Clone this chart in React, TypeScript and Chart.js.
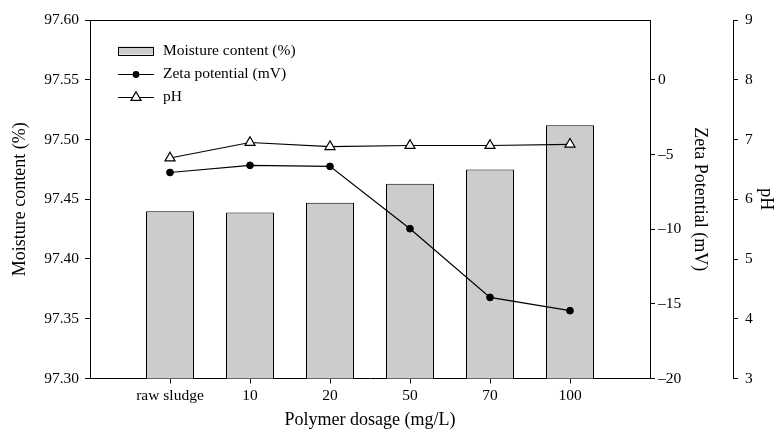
import React, { useEffect, useRef } from 'react';
import { Chart, registerables } from 'chart.js';

Chart.register(...registerables);

const categories = ['raw sludge', '10', '20', '50', '70', '100'];
const moisture = [97.44, 97.439, 97.447, 97.463, 97.475, 97.512];
const zeta = [-6.21, -5.73, -5.8, -9.97, -14.57, -15.46];
const ph = [6.69, 6.95, 6.88, 6.9, 6.9, 6.92];

const moistureTicks = [97.3, 97.35, 97.4, 97.45, 97.5, 97.55, 97.6];
const zetaTicks = [-20, -15, -10, -5, 0];
const phTicks = [3, 4, 5, 6, 7, 8, 9];

const FONT = "'Liberation Serif', 'Times New Roman', Times, serif";
const TICK_SIZE = 15.5;
const TITLE_SIZE = 18;

const framePlugin = {
  id: 'frameTop',
  afterDraw(chart: any) {
    const { ctx, chartArea } = chart;
    ctx.save();
    ctx.strokeStyle = '#000';
    ctx.lineWidth = 1;
    ctx.beginPath();
    const y = Math.round(chartArea.top) + 0.5;
    ctx.moveTo(chartArea.left, y);
    ctx.lineTo(chartArea.right, y);
    ctx.stroke();
    ctx.restore();
  },
};

const legendPlugin = {
  id: 'insideLegend',
  afterDraw(chart: any) {
    const { ctx, chartArea } = chart;
    const ds = chart.data.datasets;
    const x0 = chartArea.left + 28;
    const x1 = x0 + 36;
    const xm = (x0 + x1) / 2;
    const tx = x1 + 9;
    const rows = [chartArea.top + 30.5, chartArea.top + 53.5, chartArea.top + 77];
    ctx.save();
    ctx.font = `${TICK_SIZE}px ${FONT}`;
    ctx.fillStyle = '#000';
    ctx.textBaseline = 'middle';
    ctx.textAlign = 'left';
    ctx.lineWidth = 1.2;
    ctx.strokeStyle = '#000';
    // bar swatch
    ctx.fillStyle = '#cccccc';
    ctx.fillRect(x0, rows[0] - 4, 36, 8);
    ctx.lineWidth = 1;
    ctx.strokeRect(x0 + 0.5, Math.round(rows[0] - 4) + 0.5, 35, 8);
    ctx.lineWidth = 1.2;
    ctx.fillStyle = '#000';
    ctx.fillText(ds[0].label, tx, rows[0]);
    // zeta line
    ctx.beginPath();
    ctx.moveTo(x0, Math.round(rows[1]) + 0.5);
    ctx.lineTo(x1, Math.round(rows[1]) + 0.5);
    ctx.stroke();
    ctx.beginPath();
    ctx.arc(xm, Math.round(rows[1]) + 0.5, 3.4, 0, Math.PI * 2);
    ctx.fill();
    ctx.fillText(ds[1].label, tx, rows[1]);
    // pH line
    ctx.beginPath();
    ctx.moveTo(x0, Math.round(rows[2]) + 0.5);
    ctx.lineTo(x1, Math.round(rows[2]) + 0.5);
    ctx.stroke();
    const r = 5.8;
    const cy = Math.round(rows[2]) + 0.5;
    ctx.beginPath();
    ctx.moveTo(xm, cy - r);
    ctx.lineTo(xm + Math.sin((2 * Math.PI) / 3) * r, cy + r / 2);
    ctx.lineTo(xm - Math.sin((2 * Math.PI) / 3) * r, cy + r / 2);
    ctx.closePath();
    ctx.fillStyle = '#fff';
    ctx.fill();
    ctx.stroke();
    ctx.fillStyle = '#000';
    ctx.fillText(ds[2].label, tx, rows[2]);
    ctx.restore();
  },
};

export default function App() {
  const ref = useRef<HTMLCanvasElement | null>(null);

  useEffect(() => {
    if (!ref.current) return;
    const axisCommon = {
      grid: {
        display: true,
        drawOnChartArea: false,
        drawTicks: true,
        tickLength: 5,
        color: '#000',
        lineWidth: 1,
        offset: false,
      },
      border: { display: true, color: '#000', width: 1 },
    };
    const chart = new Chart(ref.current, {
      type: 'bar',
      data: {
        datasets: [
          {
            type: 'bar',
            label: 'Moisture content (%)',
            data: moisture.map((v, i) => ({ x: i, y: v })),
            xAxisID: 'x',
            yAxisID: 'yM',
            backgroundColor: '#cccccc',
            borderColor: '#000',
            borderWidth: 1,
            barPercentage: 0.6,
            categoryPercentage: 1,
            order: 3,
          },
          {
            type: 'line',
            label: 'Zeta potential (mV)',
            data: zeta.map((v, i) => ({ x: i, y: v })),
            xAxisID: 'x',
            yAxisID: 'yZ',
            borderColor: '#000',
            borderWidth: 1.2,
            pointStyle: 'circle',
            pointRadius: 3.4,
            pointBackgroundColor: '#000',
            pointBorderColor: '#000',
            pointBorderWidth: 1,
            tension: 0,
            fill: false,
            order: 2,
          },
          {
            type: 'line',
            label: 'pH',
            data: ph.map((v, i) => ({ x: i, y: v })),
            xAxisID: 'x',
            yAxisID: 'yP',
            borderColor: '#000',
            borderWidth: 1.2,
            pointStyle: 'triangle',
            pointRadius: 5.8,
            pointBackgroundColor: '#fff',
            pointBorderColor: '#000',
            pointBorderWidth: 1.2,
            tension: 0,
            fill: false,
            order: 1,
          },
        ] as any,
      },
      options: {
        animation: false,
        responsive: false,
        maintainAspectRatio: false,
        layout: { padding: { top: 20, left: 0, right: 0, bottom: 0 } },
        plugins: {
          legend: { display: false },
          tooltip: { enabled: false },
        },
        scales: {
          x: {
            type: 'linear',
            position: 'bottom',
            min: -1,
            max: 6,
            offset: false,
            ...axisCommon,
            ticks: {
              color: '#000',
              font: { family: FONT, size: TICK_SIZE },
              padding: 3,
              maxRotation: 0,
              minRotation: 0,
              autoSkip: false,
              callback: (v: any) => categories[v] ?? '',
            },
            afterBuildTicks: (s: any) => {
              s.ticks = categories.map((_, i) => ({ value: i }));
            },
            afterFit: (s: any) => {
              s.height = 54.5;
            },
            title: {
              display: true,
              text: 'Polymer dosage (mg/L)',
              color: '#000',
              font: { family: FONT, size: TITLE_SIZE },
              padding: { top: 0, bottom: 2 },
            },
          },
          yM: {
            type: 'linear',
            position: 'left',
            min: 97.3,
            max: 97.6,
            beginAtZero: false,
            ...axisCommon,
            ticks: {
              color: '#000',
              font: { family: FONT, size: TICK_SIZE },
              padding: 6,
              callback: (v: any) => Number(v).toFixed(2),
            },
            afterBuildTicks: (s: any) => {
              s.ticks = moistureTicks.map((v) => ({ value: v }));
            },
            afterFit: (s: any) => {
              s.width = 90;
            },
            title: {
              display: true,
              text: 'Moisture content (%)',
              color: '#000',
              font: { family: FONT, size: TITLE_SIZE },
              padding: { top: 9, bottom: 0 },
            },
          },
          yZ: {
            type: 'linear',
            position: 'right',
            weight: 0,
            min: -20,
            max: 4,
            beginAtZero: false,
            ...axisCommon,
            ticks: {
              color: '#000',
              font: { family: FONT, size: TICK_SIZE },
              padding: 3,
              callback: (v: any) => (v < 0 ? '\u2013' + Math.abs(v) : String(v)),
            },
            afterBuildTicks: (s: any) => {
              s.ticks = zetaTicks.map((v) => ({ value: v }));
            },
            afterFit: (s: any) => {
              s.width = 83;
            },
            title: {
              display: true,
              text: 'Zeta Potential (mV)',
              color: '#000',
              font: { family: FONT, size: TITLE_SIZE },
              padding: { top: 22, bottom: 0 },
            },
          },
          yP: {
            type: 'linear',
            position: 'right',
            weight: 1,
            min: 3,
            max: 9,
            beginAtZero: false,
            ...axisCommon,
            ticks: {
              color: '#000',
              font: { family: FONT, size: TICK_SIZE },
              padding: 7,
              callback: (v: any) => String(v),
            },
            afterBuildTicks: (s: any) => {
              s.ticks = phTicks.map((v) => ({ value: v }));
            },
            afterFit: (s: any) => {
              s.width = 44;
            },
            title: {
              display: true,
              text: 'pH',
              color: '#000',
              font: { family: FONT, size: TITLE_SIZE },
              padding: { top: 0, bottom: 0 },
            },
          },
        },
      } as any,
      plugins: [framePlugin, legendPlugin],
    });
    return () => chart.destroy();
  }, []);

  return (
    <div style={{ position: 'fixed', left: 0, top: 0, width: 777, height: 433, background: '#fff' }}>
      <canvas ref={ref} width={777} height={433} style={{ display: 'block', width: 777, height: 433 }} />
    </div>
  );
}
